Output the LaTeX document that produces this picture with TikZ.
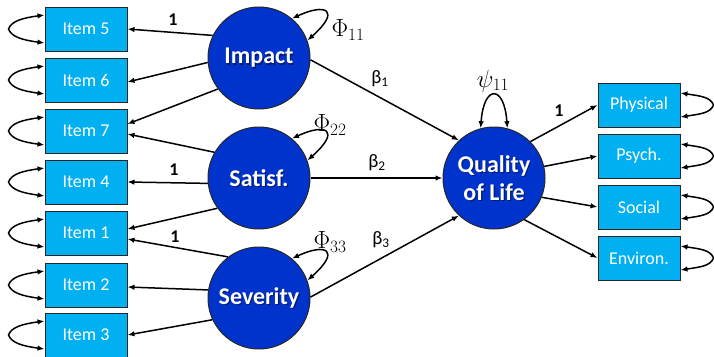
\documentclass[tikz,border=0pt]{standalone}
\usepackage{fontspec}
\setmainfont{Carlito}
\usetikzlibrary{arrows.meta}

\definecolor{boxfill}{HTML}{00B0F0}
\definecolor{latent}{HTML}{0033CC}
\definecolor{edge}{HTML}{262626}

\begin{document}
\begin{tikzpicture}[x=1pt,y=-1pt,
  obs/.style={draw=edge, line width=1pt, fill=boxfill, minimum width=82pt,
    minimum height=44pt, inner sep=0pt, text=white,
    font=\fontsize{18}{20}\selectfont},
  lat/.style={circle, draw=edge, line width=1pt, fill=latent, minimum size=102pt,
    inner sep=0pt},
  lattext/.style={text=white, align=center, inner sep=0pt,
    font=\bfseries\fontsize{24}{28}\selectfont},
  latshadow/.style={lattext, text=black, text opacity=0.45},
  load/.style={line width=1.5pt, -{Latex[length=7pt,width=5.5pt]}},
  cov/.style={line width=1.5pt, {Latex[length=7pt,width=5.5pt]}-{Latex[length=7pt,width=5.5pt]}},
  coef/.style={font=\bfseries\fontsize{18}{18}\selectfont},
  betalab/.style={font=\fontsize{19}{19}\selectfont},
  varlab/.style={font=\fontsize{25}{25}\selectfont}
]
\useasboundingbox (0,0) rectangle (714,356);

% observed indicators of the exogenous factors
\node[obs] (i5) at (86,29)  {Item 5};
\node[obs] (i6) at (86,80)  {Item 6};
\node[obs] (i7) at (86,131) {Item 7};
\node[obs] (i4) at (86,182) {Item 4};
\node[obs] (i1) at (86,233) {Item 1};
\node[obs] (i2) at (86,285) {Item 2};
\node[obs] (i3) at (86,335) {Item 3};

% observed indicators of quality of life
\node[obs] (phys) at (639,105) {Physical};
\node[obs] (psy)  at (639,156) {Psych.};
\node[obs] (soc)  at (639,207) {Social};
\node[obs] (env)  at (639,258) {Environ.};

% latent variables, with shadowed white captions
\node[lat] (imp) at (259,58)  {};
\node[lat] (sat) at (259,178) {};
\node[lat] (sev) at (259,298) {};
\node[lat] (qol) at (494,178) {};
\foreach \n/\t in {imp/Impact, sat/Satisf., sev/Severity, qol/{Quality\\of Life}}{
  \node[latshadow] (\n-s) at ([xshift=1.2pt,yshift=-1.2pt]\n.center) {\t};
  \node[lattext] (\n-t) at (\n.center) {\t};
}

% error variances of the indicators
\foreach \n in {i5,i6,i7,i4,i1,i2,i3}
  \draw[cov] ([yshift=14pt]\n.west) .. controls +(-22,3) and +(3,-8) ..
    ([xshift=-36pt]\n.west) .. controls +(3,8) and +(-22,-3) .. ([yshift=-14pt]\n.west);
\foreach \n in {phys,psy,soc,env}
  \draw[cov] ([yshift=12pt]\n.east) .. controls +(20,3) and +(-3,-8) ..
    ([xshift=33pt]\n.east) .. controls +(-3,8) and +(20,-3) .. ([yshift=-12pt]\n.east);

% factor variances
\foreach \n in {imp,sat,sev}
  \draw[cov] (\n.50) .. controls +(34,-16) and +(34,-30) .. (\n.20);
\draw[cov] (qol.105) .. controls +(3,-44) and +(-3,-44) .. (qol.75);

\node[varlab] (phi1) at (348,30)  {$\Phi_{11}$};
\node[varlab] (phi2) at (330,125) {$\Phi_{22}$};
\node[varlab] (phi3) at (330,242) {$\Phi_{33}$};
\node[varlab] (psi)  at (493,81)  {$\psi_{11}$};

% factor loadings
\draw[load] (imp.154) -- (i5.east);
\draw[load] (imp.185) -- ([yshift=-2pt]i6.east);
\draw[load] (imp.217) -- ([yshift=7pt]i7.east);
\draw[load] (sat.150) -- ([yshift=-3pt]i7.east);
\draw[load] (sat.186) -- (i4.east);
\draw[load] (sat.216) -- ([yshift=4pt]i1.east);
\draw[load] (sev.127) -- ([yshift=-6pt]i1.east);
\draw[load] (sev.171) -- ([yshift=-2pt]i2.east);
\draw[load] (sev.205) -- (i3.east);

\draw[load] (qol.45)  -- (phys.west);
\draw[load] (qol.13)  -- (psy.west);
\draw[load] (qol.-22) -- (soc.west);
\draw[load] (qol.-54) -- (env.west);

\node[coef] (l5) at (173,20)  {1};
\node[coef] (l4) at (174,170) {1};
\node[coef] (l1) at (175,237) {1};
\node[coef] (lp) at (559,111) {1};

% structural paths
\draw[load] (imp.-2) -- (qol.133);
\draw[load] (sat.east) -- (qol.west);
\draw[load] (sev.1) -- (qol.227);

\node[betalab] (b1) at (380,79)  {β\textsubscript{1}};
\node[betalab] (b2) at (377,163) {β\textsubscript{2}};
\node[betalab] (b3) at (381,240) {β\textsubscript{3}};
\end{tikzpicture}
\end{document}
